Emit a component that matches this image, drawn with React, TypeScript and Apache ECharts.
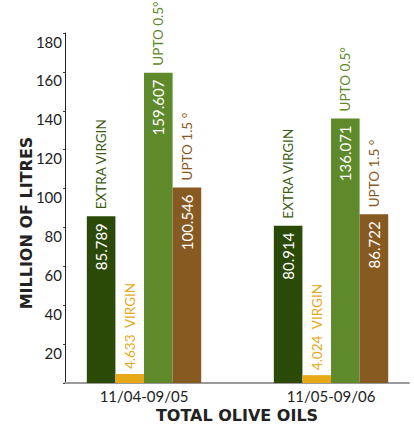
import React, { useEffect, useRef } from "react";
import * as echarts from "echarts";

// Olive oil volumes (million litres) per marketing season
const periods = ["11/04-09/05", "11/05-09/06"];
const extraVirgin = [85.789, 80.914];
const virgin = [4.633, 4.024];
const upTo05 = [159.607, 136.071];
const upTo15 = [100.546, 86.722];

const seriesNames = ["EXTRA VIRGIN", "VIRGIN", "UPTO 0.5°", "UPTO 1.5 °"];
const seriesColors = ["#2b4a08", "#e6a817", "#5e8a2b", "#875a22"];
const nameColors = ["#3b5c12", "#e6a817", "#5e8a2b", "#875a22"];

const FONT = "Lato, 'Open Sans', sans-serif";
const TITLE_FONT = "'DejaVu Sans', sans-serif";

export default function App() {
  const ref = useRef<HTMLDivElement>(null);

  useEffect(() => {
    if (!ref.current) return;
    const chart = echarts.init(ref.current, null, { renderer: "svg" });

    const groups = [extraVirgin, virgin, upTo05, upTo15];

    const series = groups.map((vals, i) => {
      const isVirgin = i === 1;
      return {
        type: "bar",
        name: seriesNames[i],
        barWidth: 28.6,
        barGap: "0%",
        data: vals.map((v, k) => [k, v]),
        itemStyle: { color: seriesColors[i] },
        // value written inside the bar (too short for the virgin oil bar)
        label: {
          show: !isVirgin,
          position: "insideTop",
          distance: 7,
          rotate: 90,
          align: "right",
          verticalAlign: "middle",
          color: "#ffffff",
          fontFamily: FONT,
          fontSize: 15,
          formatter: (p: any) => String(vals[p.dataIndex]),
        },
        // grade name standing on top of each bar
        markPoint: {
          symbol: "circle",
          symbolSize: 0,
          silent: true,
          label: {
            show: true,
            position: "top",
            distance: isVirgin ? 5 : 7,
            rotate: 90,
            align: "left",
            verticalAlign: "middle",
            color: nameColors[i],
            fontFamily: FONT,
            fontSize: 13.5,
            formatter: (p: any) =>
              isVirgin ? p.value + "  " + seriesNames[i] : seriesNames[i],
          },
          data: vals.map((v, k) => ({ coord: [k, v], value: v })),
        },
      };
    });

    chart.setOption({
      animation: false,
      grid: { left: 65, right: 5, top: 33, bottom: 43 },
      xAxis: {
        type: "value",
        min: -0.4225,
        max: 1.417,
        splitLine: { show: false },
        axisLine: { show: true, onZero: false, lineStyle: { color: "#9a9a9a", width: 2 } },
        axisTick: { show: false },
        axisLabel: {
          customValues: [0, 1],
          formatter: (v: number) => periods[Math.round(v)] ?? "",
          color: "#222",
          fontFamily: FONT,
          fontSize: 15,
          margin: 5,
        },
      },
      yAxis: {
        type: "value",
        min: 0,
        max: 180,
        interval: 20,
        splitLine: { show: false },
        axisLine: { show: true, onZero: false, lineStyle: { color: "#222", width: 1 } },
        axisTick: { show: true, length: 2, lineStyle: { color: "#444" } },
        axisLabel: {
          color: "#222",
          fontFamily: FONT,
          fontSize: 15,
          margin: 3,
          verticalAlign: "top",
          padding: [1, 0, 0, 0],
          formatter: (v: number) => (v === 0 ? "" : String(v)),
        },
      },
      graphic: [
        {
          type: "text",
          x: 26,
          y: 223,
          rotation: Math.PI / 2,
          style: {
            text: "MILLION OF LITRES",
            align: "center",
            verticalAlign: "middle",
            fill: "#222",
            font: "bold 16px " + TITLE_FONT,
          },
        },
        {
          type: "text",
          x: 237,
          y: 415,
          style: {
            text: "TOTAL OLIVE OILS",
            align: "center",
            verticalAlign: "middle",
            fill: "#222",
            font: "bold 16px " + TITLE_FONT,
          },
        },
      ],
      series,
    });

    return () => chart.dispose();
  }, []);

  return (
    <div
      ref={ref}
      style={{ position: "absolute", left: 0, top: 0, width: 414, height: 426 }}
    />
  );
}
